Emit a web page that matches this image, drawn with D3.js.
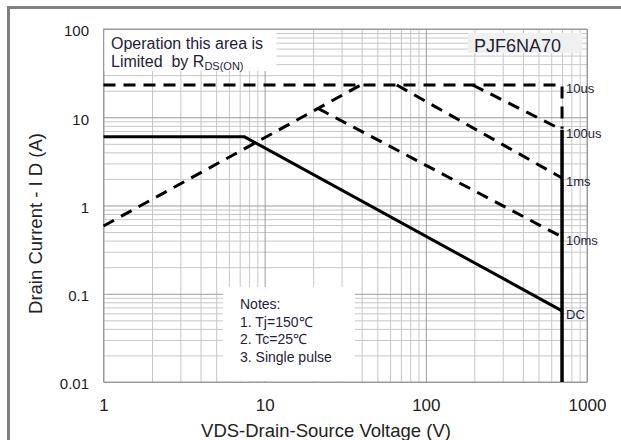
<!DOCTYPE html>
<html>
<head>
<meta charset="utf-8">
<script src="https://cdn.jsdelivr.net/npm/d3@7"></script>
<style>
	body { margin: 0; background: #fff; }
	svg { display: block; font-family: "Liberation Sans", Arial, sans-serif; }
</style>
</head>
<body>
<div class="soa-plot"></div>
<script>
const xTicks = [1, 10, 100, 1000];
const yTicks = [0.01, 0.1, 1, 10, 100];

// corner points [VDS (V), ID (A)]
const rdsOnLimit = [[1, 0.586], [39.5, 23.2]];
const pulse10us = [[1, 23.2], [700, 23.2], [700, 7.4]];
const pulse100us = [[195, 23.2], [700, 7.2]];
const pulse1ms = [[66, 23.2], [700, 2.05]];
const pulse10ms = [[21.4, 12.6], [700, 0.44]];
const dcLine = [[1, 6], [7.5, 6], [700, 0.064]];
const vdsLimit = [[700, 7.2], [700, 0.01]];

const curveNames = ['10us', '100us', '1ms', '10ms', 'DC'];
const notes = ['Notes:', '1. Tj=150\u2103', '2. Tc=25\u2103', '3. Single pulse'];

function charting() {
	const width = 621;
	const height = 440;
	const left = 103.5, right = 587, top = 29, bottom = 382;

	const svg = d3.select('.soa-plot')
		.append('svg')
		.attr('width', width)
		.attr('height', height);

	const x = d3.scaleLog().domain([1, 1000]).range([left, right]);
	const y = d3.scaleLog().domain([0.01, 100]).range([bottom, top]);

	const isMajor = d => Math.abs(Math.log10(d) - Math.round(Math.log10(d))) < 1e-9;

	// grid: minor first, then decades a bit darker
	const grid = svg.append('g');
	grid.append('g')
		.attr('transform', `translate(0,${bottom})`)
		.call(d3.axisBottom(x).tickValues(x.ticks().filter(d => !isMajor(d))).tickSize(-(bottom - top)).tickFormat(''));
	grid.append('g')
		.attr('transform', `translate(${left},0)`)
		.call(d3.axisLeft(y).tickValues(y.ticks().filter(d => !isMajor(d))).tickSize(-(right - left)).tickFormat(''));
	grid.selectAll('line').attr('stroke', '#c6c6c6');
	const major = svg.append('g');
	major.append('g')
		.attr('transform', `translate(0,${bottom})`)
		.call(d3.axisBottom(x).tickValues(xTicks).tickSize(-(bottom - top)).tickFormat(''));
	major.append('g')
		.attr('transform', `translate(${left},0)`)
		.call(d3.axisLeft(y).tickValues(yTicks).tickSize(-(right - left)).tickFormat(''));
	major.selectAll('line').attr('stroke', '#9a9a9a');
	svg.selectAll('.domain').remove();

	// text boxes that hide the grid
	svg.append('rect').attr('x', left + 1).attr('y', top + 1).attr('width', 172).attr('height', 41).attr('fill', '#fff');
	svg.append('rect').attr('x', 223).attr('y', 287).attr('width', 132).attr('height', 94).attr('fill', '#fff');
	svg.append('rect').attr('x', 468).attr('y', 33).attr('width', 114).attr('height', 20).attr('fill', '#f0f0f0');

	svg.append('rect')
		.attr('x', left).attr('y', top)
		.attr('width', right - left).attr('height', bottom - top)
		.attr('fill', 'none').attr('stroke', '#9a9a9a');

	// curves
	const line = d3.line().x(d => x(d[0])).y(d => y(d[1]));
	const dashed = [rdsOnLimit, pulse10us, pulse100us, pulse1ms, pulse10ms];
	svg.selectAll('path.dash')
		.data(dashed)
		.enter()
		.append('path')
		.attr('class', 'dash')
		.attr('d', line)
		.attr('fill', 'none')
		.attr('stroke', '#000')
		.attr('stroke-width', 3)
		.attr('stroke-dasharray', '12,8');
	svg.append('path').attr('d', line(dcLine))
		.attr('fill', 'none').attr('stroke', '#000').attr('stroke-width', 3);
	svg.append('path').attr('d', line(vdsLimit))
		.attr('fill', 'none').attr('stroke', '#000').attr('stroke-width', 3.5);

	// curve labels at the right end of each curve
	const labelled = [pulse10us, pulse100us, pulse1ms, pulse10ms, dcLine];
	svg.selectAll('text.curve')
		.data(labelled)
		.enter()
		.append('text')
		.attr('class', 'curve')
		.attr('x', d => x(d3.max(d, p => p[0])) + 4)
		.attr('y', d => {
			const vmax = d3.max(d, p => p[0]);
			return y(d3.max(d.filter(p => p[0] === vmax), p => p[1])) + 8;
		})
		.attr('font-size', 13)
		.attr('fill', '#1f2237')
		.text((d, i) => curveNames[i]);

	// tick labels
	const xAxis = svg.append('g')
		.attr('transform', `translate(0,${bottom})`)
		.call(d3.axisBottom(x).tickValues(xTicks).tickSize(0).tickPadding(16.5).tickFormat(d => d));
	xAxis.attr('font-size', 17).attr('font-family', null);
	const yAxis = svg.append('g')
		.attr('transform', `translate(${left},0)`)
		.call(d3.axisLeft(y).tickValues(yTicks).tickSize(0).tickPadding(14.5).tickFormat(d => d));
	yAxis.attr('font-size', 15).attr('font-family', null);
	yAxis.selectAll('text').attr('dy', '0.45em');
	svg.selectAll('.domain').remove();
	svg.selectAll('.tick text').attr('fill', '#222');

	// axis titles
	svg.append('text')
		.attr('x', 326).attr('y', 437)
		.attr('text-anchor', 'middle')
		.attr('font-size', 18.5)
		.attr('fill', '#222')
		.text('VDS-Drain-Source Voltage (V)');
	svg.append('text')
		.attr('transform', 'translate(41.5,223.5) rotate(-90)')
		.attr('text-anchor', 'middle')
		.attr('font-size', 18.5)
		.attr('fill', '#222')
		.text('Drain Current - I D (A)');

	// annotations
	svg.append('text').attr('x', 111).attr('y', 48.5).attr('font-size', 16).attr('fill', '#1f2237')
		.text('Operation this area is');
	const lim = svg.append('text').attr('x', 111).attr('y', 66.5).attr('font-size', 16).attr('fill', '#1f2237')
		.style('white-space', 'pre');
	lim.append('tspan').text('Limited  by R');
	lim.append('tspan').attr('font-size', 11).attr('dy', 3.5).text('DS(ON)');

	svg.append('text').attr('x', 474).attr('y', 51.5).attr('font-size', 18).attr('fill', '#1f2237')
		.text('PJF6NA70');

	svg.selectAll('text.note')
		.data(notes)
		.enter()
		.append('text')
		.attr('class', 'note')
		.attr('x', 240)
		.attr('y', (d, i) => 309 + i * 17.6)
		.attr('font-size', 14)
		.attr('fill', '#1f2237')
		.text(d => d);

	// outer frame (top and left edges show)
	svg.append('path')
		.attr('d', 'M8.5,440V7.5H621')
		.attr('fill', 'none')
		.attr('stroke', '#808080')
		.attr('stroke-width', 3);
}

charting();
</script>
</body>
</html>
